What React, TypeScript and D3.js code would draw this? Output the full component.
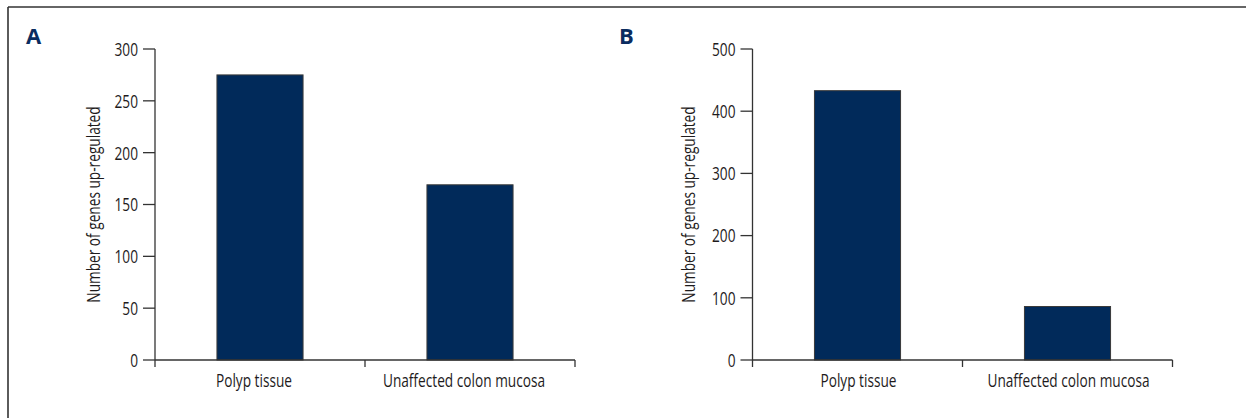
import React from "react";
import * as d3 from "d3";

const categories = ["Polyp tissue", "Unaffected colon mucosa"];
const valuesA = [275, 169];
const valuesB = [433, 86];
const ticksA = [0, 50, 100, 150, 200, 250, 300];
const ticksB = [0, 100, 200, 300, 400, 500];
const yTitle = "Number of genes up-regulated";

const W = 1246;
const H = 418;
const FONT = "'Open Sans', 'Noto Sans', sans-serif";
const FS = 19;
const SX = 0.72;
const TEXT = "#1e1b1c";
const NAVY = "#012a5a";
const AXIS = "#333";

type PanelProps = {
  letter: string;
  letterX: number;
  x0: number;
  x1: number;
  values: number[];
  ticks: number[];
  max: number;
  titleX: number;
  labelDx: number;
};

function Panel({ letter, letterX, x0, x1, values, ticks, max, titleX, labelDx }: PanelProps) {
  const yTop = 49;
  const yBot = 360;
  const y = d3.scaleLinear().domain([0, max]).range([yBot, yTop]);
  const band = d3.scaleBand<string>().domain(categories).range([x0, x1]);
  const barW = band.bandwidth() * 0.41;
  const cx = (c: string) => (band(c) as number) + band.bandwidth() / 2;
  const bounds = [x0, ...categories.map((c) => (band(c) as number) + band.bandwidth())];
  return (
    <g>
      <text x={letterX} y={43.5} fontFamily="'Open Sans', sans-serif" fontWeight={700} fontSize={22} fill="#0b2d60">
        {letter}
      </text>
      {categories.map((c, i) => (
        <rect
          key={c}
          x={cx(c) - barW / 2}
          y={y(values[i])}
          width={barW}
          height={yBot - y(values[i])}
          fill={NAVY}
          stroke="#3a3a3a"
          strokeWidth={1}
        />
      ))}
      <line x1={x0} x2={x0} y1={yTop} y2={yBot} stroke={AXIS} strokeWidth={1.3} />
      <line x1={x0} x2={x1} y1={yBot} y2={yBot} stroke={AXIS} strokeWidth={1.3} />
      {ticks.map((t) => (
        <g key={t}>
          <line x1={x0 - 12} x2={x0} y1={y(t)} y2={y(t)} stroke={AXIS} strokeWidth={1.3} />
          <text
            transform={`translate(${x0 - 17},${y(t)}) scale(${SX},1)`}
            dy="0.36em"
            textAnchor="end"
            fontFamily={FONT}
            fontSize={FS}
            fill={TEXT}
          >
            {t}
          </text>
        </g>
      ))}
      {bounds.map((b, i) => (
        <line key={i} x1={b} x2={b} y1={yBot} y2={yBot + 7} stroke={AXIS} strokeWidth={1.3} />
      ))}
      {categories.map((c) => (
        <text
          key={c}
          transform={`translate(${cx(c) + labelDx},387) scale(${SX},1)`}
          textAnchor="middle"
          fontFamily={FONT}
          fontSize={FS}
          fill={TEXT}
        >
          {c}
        </text>
      ))}
      <text
        transform={`translate(${titleX},${(yTop + yBot) / 2}) rotate(-90) scale(${SX},1)`}
        textAnchor="middle"
        dy="0.36em"
        fontFamily={FONT}
        fontSize={FS}
        fill={TEXT}
      >
        {yTitle}
      </text>
    </g>
  );
}

export default function App() {
  return (
    <svg width={W} height={H} style={{ position: "absolute", left: 0, top: 0, background: "#fff" }}>
      <rect x={0} y={0} width={W} height={H} fill="#fff" />
      <line x1={8} x2={W} y1={7} y2={7} stroke={AXIS} strokeWidth={1.6} />
      <line x1={8} x2={8} y1={7} y2={H} stroke={AXIS} strokeWidth={1.6} />
      <Panel letter="A" letterX={26} x0={155} x1={575} values={valuesA} ticks={ticksA} max={300} titleX={93} labelDx={-6} />
      <Panel letter="B" letterX={619} x0={752.5} x1={1172.5} values={valuesB} ticks={ticksB} max={500} titleX={688} labelDx={1} />
    </svg>
  );
}
